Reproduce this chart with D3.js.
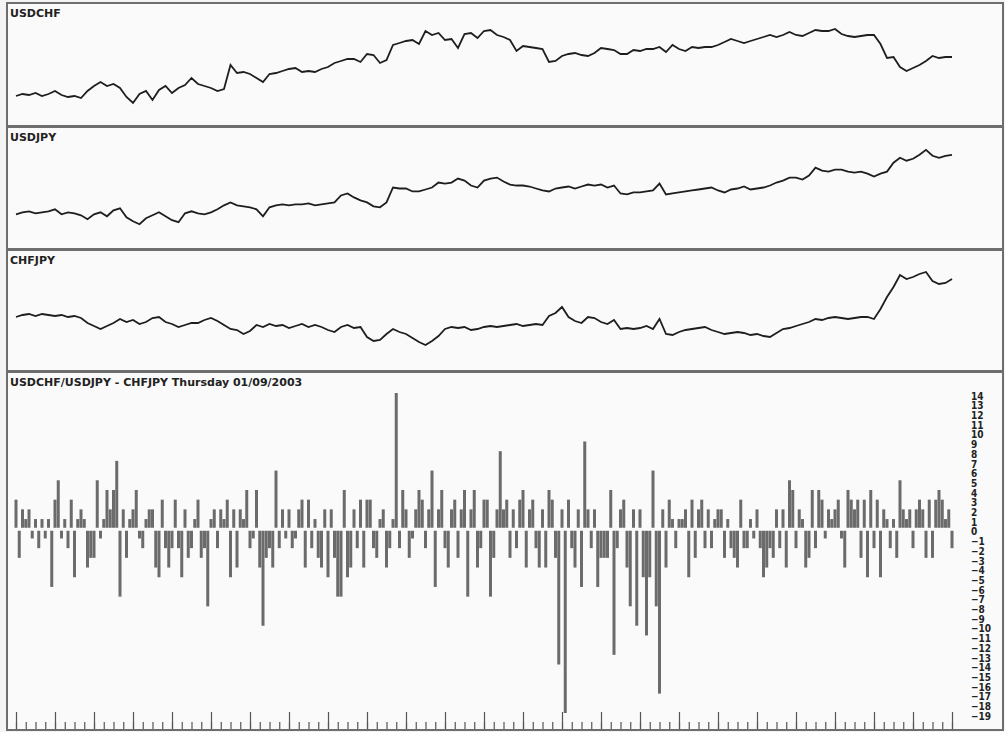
<!DOCTYPE html>
<html>
<head>
<meta charset="utf-8">
<script src="https://cdn.jsdelivr.net/npm/d3@7/dist/d3.min.js"></script>
<style>
  body { margin: 0; background: #f7f7f7; }
  svg { display: block; font-family: 'DejaVu Sans', sans-serif; }
</style>
</head>
<body>
<div id="chart"></div>
<script>
// ---- data ----
const usdchf = [
  1.495,1.505,1.500,1.510,1.495,1.505,1.520,1.500,1.490,1.495,1.485,1.520,
  1.545,1.565,1.545,1.555,1.535,1.490,1.460,1.505,1.520,1.475,1.525,1.545,
  1.510,1.535,1.550,1.585,1.555,1.545,1.535,1.520,1.530,1.650,1.610,1.615,
  1.605,1.585,1.565,1.605,1.610,1.620,1.630,1.635,1.615,1.620,1.615,1.630,
  1.640,1.660,1.670,1.680,1.680,1.665,1.705,1.700,1.660,1.675,1.750,1.760,
  1.770,1.775,1.755,1.820,1.800,1.810,1.775,1.780,1.735,1.805,1.810,1.785,
  1.820,1.825,1.800,1.790,1.775,1.720,1.745,1.740,1.735,1.730,1.665,1.670,
  1.695,1.705,1.710,1.700,1.695,1.710,1.735,1.730,1.725,1.705,1.705,1.725,
  1.720,1.730,1.730,1.740,1.715,1.750,1.730,1.720,1.740,1.735,1.740,1.740,
  1.750,1.765,1.780,1.770,1.760,1.770,1.780,1.790,1.800,1.790,1.800,1.815,
  1.800,1.795,1.810,1.825,1.820,1.820,1.830,1.805,1.795,1.790,1.795,1.800,
  1.800,1.755,1.685,1.690,1.640,1.620,1.635,1.650,1.670,1.695,1.685,1.690,1.690
];
const usdjpy = [
  113.5,114,114.25,113.75,114,114.25,114.75,113.5,114,113.75,113.25,112.25,
  113.5,114,113,114.5,115,112.75,111.75,111,112.5,113.25,114,113,
  112,111.5,113.75,114.25,113.75,113.5,114,114.75,115.75,116.5,115.75,115.5,
  115.25,114.75,113,115.25,115.75,116,115.75,116,116,116.25,115.75,116,
  116.25,116.5,118.25,118.75,117.75,117,116.5,115.5,115.25,116.5,120.25,120,
  120,119.25,119.25,119.75,120.25,121.5,121.25,121.5,122.5,122,120.75,120.25,
  122,122.5,122.75,121.75,121,120.75,120.75,120.5,120,119.5,119.25,120,
  120.25,120.5,120,120.5,121,120.75,121,120.25,120.75,118.75,118.5,119,
  119,119.25,119.5,121.25,118.5,118.75,119,119.25,119.5,119.75,120,120.25,
  119.5,119,119.75,120,120.5,119.75,120,120.25,120.75,121.5,122,122.75,
  122.75,122.25,123.25,125.25,124.5,124.25,124.75,124.75,124.25,124,124.25,123.75,
  123,123.75,124.25,126.5,127.75,127,127.5,128.5,129.75,128.25,127.75,128.25,128.5
];
const chfjpy = [
  75.25,75.75,76,75.5,76,75.75,75.5,75.75,75.25,75.5,75,73.75,
  73,72.25,73,73.75,74.75,74,74.5,73.5,74,75,75.25,74,
  73.5,72.75,73.25,73.75,73.75,74.5,75,74.25,73.25,72.25,72,71,
  71.75,73.25,72.75,73.5,73,73.25,72.5,73,73.5,72.75,73.25,72.75,
  72,71.5,72.75,73.25,72.5,72.75,70.25,69.25,69.5,71,72.25,71.5,
  71,70,69,68.25,69.25,70.5,72.25,72.75,72.5,72.75,72,72.25,
  72.75,73,72.75,73,73.25,73.5,73,73.25,73.5,73.25,75.5,76.25,
  77.75,75.25,74.25,73.75,75.25,75,74,73.5,74.5,72.25,72.5,72.25,
  72.5,73,72.25,74.75,71,70.75,71.5,72,72.25,72.5,72.75,72,
  71.5,71,71.25,71.5,71.25,70.75,71,70.5,70.25,71.25,72.25,72.5,
  73,73.5,74,74.75,74.5,75,75.25,75,74.75,75,75.25,75.25,
  74.75,77.25,80.25,82.75,85.75,84.75,85.25,86,86.5,84.25,83.5,83.75,84.75
];
// USDCHF/USDJPY - CHFJPY difference, one bar per day
const spread = [
  3,-3,2,1,2,-1,1,-2,1,-1,1,-6,
  3,5,-1,1,-2,3,-5,1,2,1,-4,-3,
  -3,5,-1,1,4,2,4,7,-7,2,-3,1,
  2,4,-1,-2,1,2,2,-4,-5,3,-2,-4,
  -2,3,-2,-5,2,-3,-2,1,3,-3,-2,-8,
  1,2,-2,2,1,3,-5,2,-4,2,1,4,
  -2,-1,4,-4,-10,-3,-2,-4,6,-2,2,-1,
  2,-2,-1,2,3,-4,3,-2,1,-3,-4,2,
  -5,2,-3,-7,-7,4,-5,-4,2,-2,3,-4,
  3,3,-2,-3,1,2,-4,-2,1,14,-2,4,
  2,-3,-1,2,4,3,-2,2,6,-6,2,4,
  -2,-4,2,3,-3,2,4,-7,2,4,-4,-2,
  3,3,-7,-3,2,8,2,3,-3,2,-2,3,
  4,-4,2,3,-2,-4,2,-4,4,3,-3,-14,
  2,-19,3,-2,-4,2,-6,9,2,-2,2,-6,
  -3,-3,-3,4,-13,-2,2,3,-4,-8,2,-10,
  2,-5,-11,-5,6,-8,-17,2,-4,3,1,-2,
  1,1,2,-5,3,-3,2,3,-2,2,-2,1,
  2,2,-3,1,-2,-3,-4,3,-2,-2,1,-1,
  2,-2,-5,-4,-2,-3,2,-2,2,-4,5,4,
  -2,2,1,-4,-3,4,-2,4,3,-1,2,1,
  2,3,-1,-4,4,3,2,3,-3,3,-5,4,
  -2,3,-5,2,1,-2,1,-3,5,2,1,2,
  -2,2,3,2,-3,3,-3,3,4,3,1,2,
  -2
];
const spreadTicks = [14,13,12,11,10,9,8,7,6,5,4,3,2,1,0,-1,-2,-3,-4,-5,-6,-7,-8,-9,-10,-11,-12,-13,-14,-15,-16,-17,-18,-19];
const lineTitles = ['USDCHF', 'USDJPY', 'CHFJPY'];
const spreadTitle = 'USDCHF/USDJPY - CHFJPY Thursday 01/09/2003';

// ---- layout ----
const width = 1005, height = 732;
const plotLeft = 16, plotRight = 952;

const svg = d3.select('#chart').append('svg')
  .attr('width', width)
  .attr('height', height);

svg.append('rect')
  .attr('width', width).attr('height', height)
  .attr('fill', '#f4f4f4');

// panel boxes: top/bottom in px, y domain for the price panels
const panels = [
  { top: 3, bottom: 126, title: lineTitles[0], data: usdchf, domain: [1.35, 1.955] },
  { top: 127, bottom: 249, title: lineTitles[1], data: usdjpy, domain: [105, 135.25] },
  { top: 250, bottom: 371, title: lineTitles[2], data: chfjpy, domain: [62, 91.75] },
];
const barPanel = { top: 372, bottom: 730 };

function drawFrame(top, bottom) {
  svg.append('rect')
    .attr('x', 7).attr('y', top)
    .attr('width', 996).attr('height', bottom - top)
    .attr('fill', '#fafafa')
    .attr('stroke', '#6e6e6e')
    .attr('stroke-width', 2);
}

// ---- price panels ----
const xLine = d3.scaleLinear()
  .domain([0, usdchf.length - 1])
  .range([plotLeft, plotRight]);

panels.forEach(p => {
  drawFrame(p.top, p.bottom);

  const y = d3.scaleLinear()
    .domain(p.domain)
    .range([p.bottom - 1, p.top + 1]);

  const line = d3.line()
    .x((d, i) => xLine(i))
    .y(d => y(d));

  svg.append('path')
    .datum(p.data)
    .attr('fill', 'none')
    .attr('stroke', '#1e1e1e')
    .attr('stroke-width', 1.8)
    .attr('stroke-linejoin', 'miter')
    .attr('d', line);

  svg.append('text')
    .attr('x', 10).attr('y', p.top + 14)
    .attr('font-size', 11).attr('font-weight', 'bold')
    .attr('fill', '#222')
    .text(p.title);
});

// ---- spread histogram ----
drawFrame(barPanel.top, barPanel.bottom);

const xBar = d3.scaleLinear()
  .domain([0, spread.length - 1])
  .range([plotLeft, plotRight]);

const yBar = d3.scaleLinear()
  .domain([-19, 14])
  .range([713, 393]);

const barW = 3;
svg.append('g')
  .selectAll('rect')
  .data(spread)
  .join('rect')
  .attr('x', (d, i) => xBar(i) - barW / 2)
  .attr('y', d => d > 0 ? yBar(d) : yBar(0) + 2)
  .attr('width', barW)
  .attr('height', d => Math.max(0, Math.abs(yBar(d) - yBar(0)) - (d > 0 ? 1 : 2)))
  .attr('fill', '#333')
  .attr('fill-opacity', 0.72);

// right value axis
const yAxis = svg.append('g')
  .attr('transform', 'translate(971,3)')
  .call(d3.axisRight(yBar).tickValues(spreadTicks).tickSize(0).tickPadding(0));
yAxis.select('.domain').remove();
yAxis.selectAll('text')
  .attr('font-family', 'DejaVu Sans Condensed, DejaVu Sans, sans-serif')
  .attr('font-size', 10)
  .attr('font-weight', 'bold')
  .attr('fill', '#222');

// bottom time ticks: minor every 3 bars, major every 12
const minorTicks = d3.range(0, spread.length, 3);
const majorTicks = d3.range(0, spread.length, 12);

const minorAxis = svg.append('g')
  .attr('transform', `translate(0,${barPanel.bottom - 1})`)
  .call(d3.axisTop(xBar).tickValues(minorTicks).tickSize(7).tickFormat(''));
const majorAxis = svg.append('g')
  .attr('transform', `translate(0,${barPanel.bottom - 1})`)
  .call(d3.axisTop(xBar).tickValues(majorTicks).tickSize(17).tickFormat(''));
[minorAxis, majorAxis].forEach(a => {
  a.select('.domain').remove();
  a.selectAll('line').attr('stroke', '#555').attr('stroke-width', 1.2);
});

svg.append('text')
  .attr('x', 10).attr('y', barPanel.top + 14)
  .attr('font-size', 11).attr('font-weight', 'bold')
  .attr('fill', '#222')
  .text(spreadTitle);
</script>
</body>
</html>
